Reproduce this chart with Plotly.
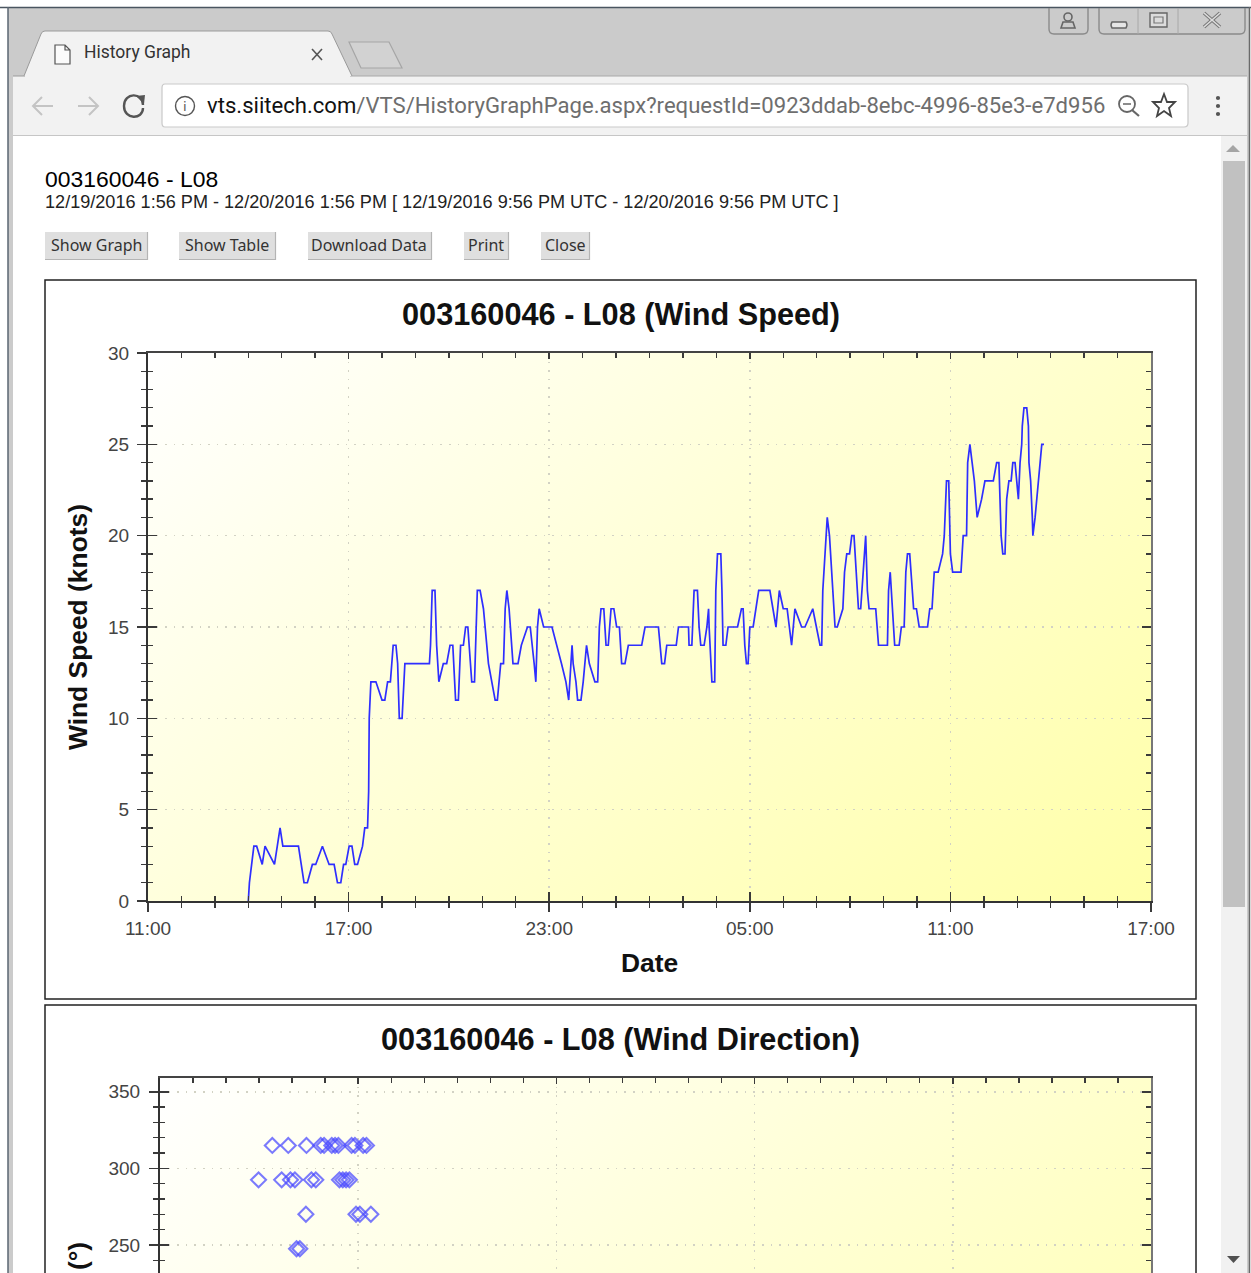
import re, base64
from datetime import datetime, timedelta
import plotly.graph_objects as go

W, H = 1251, 1273

# ---------- data (minutes after 11:00 on 12/19/2016) ----------
speed_minutes = [180,182,186,190,195,205,210,227,232,237,242,270,275,280,286,295,301,313,325,334,340,346,351,355,361,366,371,376,385,389,394,396,397,400,409,420,425,430,435,440,445,448,451,456,461,505,507,510,515,518,522,530,536,542,547,552,557,561,566,570,574,578,581,586,589,591,596,602,611,623,627,633,638,641,644,648,655,664,670,681,686,690,693,696,699,702,710,725,734,742,750,755,759,761,763,768,771,777,781,784,787,792,802,807,810,813,818,820,822,826,829,831,836,841,846,850,856,862,886,892,916,922,927,931,948,952,970,971,976,977,980,986,989,992,998,1003,1006,1007,1010,1012,1017,1019,1022,1028,1030,1032,1037,1041,1058,1065,1068,1071,1074,1077,1080,1086,1091,1096,1116,1121,1127,1133,1140,1147,1155,1161,1173,1179,1193,1206,1209,1211,1213,1217,1219,1223,1225,1229,1231,1233,1237,1247,1250,1254,1259,1263,1267,1272,1275,1279,1284,1288,1291,1294,1306,1311,1327,1329,1332,1336,1340,1343,1348,1352,1357,1360,1363,1367,1372,1374,1379,1384,1399,1403,1407,1411,1418,1426,1429,1431,1433,1437,1440,1444,1459,1463,1469,1471,1475,1479,1483,1488,1496,1502,1517,1523,1527,1531,1534,1538,1541,1545,1549,1552,1556,1559,1562,1565,1568,1569,1572,1577,1580,1581,1584,1587,1588,1592,1595,1598,1601,1604,1608]
speed_knots = [0,1,2,3,3,2,3,2,3,4,3,3,2,1,1,2,2,3,2,2,1,1,2,2,3,3,2,2,3,4,4,6,10,12,12,11,11,12,12,14,14,13,10,10,13,13,14,17,17,14,12,13,13,14,14,11,11,14,14,15,15,13,12,12,16,17,17,16,13,11,11,13,13,16,17,16,13,13,14,15,15,14,13,12,15,16,15,15,14,13,12,11,13,14,13,12,11,11,12,13,14,13,12,12,15,16,16,15,14,14,15,16,16,15,15,13,13,14,14,15,15,13,13,14,14,15,15,14,14,15,17,17,15,14,14,15,16,15,13,12,12,17,19,19,17,14,14,15,15,16,16,14,13,13,15,15,16,17,17,16,15,17,16,16,14,16,15,15,16,14,14,17,18,20,21,20,19,17,16,15,15,16,18,19,19,20,20,17,16,16,18,20,17,16,16,14,14,17,18,16,14,14,14,15,15,18,19,19,17,16,16,15,15,16,16,18,18,19,20,22,23,23,19,18,18,20,20,24,25,24,23,21,22,23,23,24,24,20,19,19,22,23,23,24,24,23,22,24,25,26,27,27,26,24,23,21,20,21,22,23,24,25,25]
dir_minutes = [204,233,266,292,298,312,318,324,348,354,369,375,179,221,237,245,275,283,326,332,338,344,265,356,363,383,248,254]
dir_degrees = [315]*12 + [292.5]*10 + [270]*4 + [247.5]*2
START = datetime(2016, 12, 19, 11, 0)
speed_time = [START + timedelta(minutes=m) for m in speed_minutes]
dir_time = [START + timedelta(minutes=m) for m in dir_minutes]
T0, T1 = "2016-12-19 11:00", "2016-12-20 17:00"
HOUR = 3600000

FONT = "Liberation Sans"
TICKC = "#3a3a3a"

# ---------- pixel helpers ----------
px = lambda x: x / W
py = lambda y: 1 - y / H
shapes, annots = [], []

def rect(x0, y0, x1, y1, fill=None, line=None, lw=1, layer="above"):
    shapes.append(dict(type="rect", xref="paper", yref="paper", x0=px(x0), x1=px(x1), y0=py(y0), y1=py(y1),
                       fillcolor=fill or "rgba(0,0,0,0)", line=dict(color=line or "rgba(0,0,0,0)", width=lw if line else 0), layer=layer))

def seg(x0, y0, x1, y1, color, lw=1, layer="above"):
    shapes.append(dict(type="line", xref="paper", yref="paper", x0=px(x0), x1=px(x1), y0=py(y0), y1=py(y1),
                       line=dict(color=color, width=lw), layer=layer))

def path(d, fill=None, line=None, lw=1, layer="above"):
    toks = re.findall(r"[MLCQZ]|-?\d+\.?\d*", d)
    out, isx = [], True
    for t in toks:
        if t in "MLCQZ":
            out.append(t); isx = True
        else:
            out.append(f"{px(float(t)):.5f}" if isx else f"{py(float(t)):.5f}")
            isx = not isx
    s = ""
    i = 0
    while i < len(out):
        if out[i] in "MLCQZ":
            s += out[i]; i += 1
            first = True
            while i < len(out) and out[i] not in "MLCQZ":
                s += ("" if first else " ") + out[i] + "," + out[i + 1]
                first = False
                i += 2
        else:
            i += 1
    shapes.append(dict(type="path", xref="paper", yref="paper", path=s, fillcolor=fill or "rgba(0,0,0,0)",
                       line=dict(color=line or "rgba(0,0,0,0)", width=lw if line else 0), layer=layer))

def text(x, y, s, size, color="#000", font=FONT, anchor="left", bold=False, angle=0, yanchor="middle"):
    annots.append(dict(x=px(x), y=py(y), xref="paper", yref="paper", text=f"<b>{s}</b>" if bold else s, showarrow=False,
                       xanchor=anchor, yanchor=yanchor, textangle=angle, align=anchor,
                       font=dict(size=size, color=color, family=font), borderpad=0, borderwidth=0))

def circle(cx, cy, r, fill=None, line=None, lw=1):
    shapes.append(dict(type="circle", xref="paper", yref="paper", x0=px(cx - r), x1=px(cx + r), y0=py(cy + r), y1=py(cy - r),
                       fillcolor=fill or "rgba(0,0,0,0)", line=dict(color=line or "rgba(0,0,0,0)", width=lw if line else 0), layer="above"))

# ---------- browser chrome ----------
GRAY = "#cbcbcb"
BAR = "#f2f2f2"
rect(8, 8, 1249, 76, fill=GRAY)
rect(8, 76, 13, H, fill=GRAY)
rect(1247, 76, 1249, H, fill=GRAY)
seg(0, 7.5, 1251, 7.5, "#4a5560", 1.5)
seg(8, 7, 8, H, "#5a6672", 1.5)
seg(1249.5, 7, 1249.5, H, "#6a6a6a", 1.5)
rect(13, 76, 1247, 135, fill=BAR)
seg(13, 135.5, 1247, 135.5, "#c6c6c6", 1)
seg(13, 76, 25, 76, "#9a9a9a", 1)
seg(350, 76, 1247, 76, "#a8a8a8", 1)
path("M 24 76 L 41 34 Q 42 31 45 31 L 328 31 Q 331 31 332 34 L 352 76 Z", fill=BAR)
path("M 24 76 L 41 34 Q 42 31 45 31 L 328 31 Q 331 31 332 34 L 352 76", line="#9a9a9a", lw=1)
path("M 349 42 L 389 42 L 402 68 L 361 68 Z", fill="#d2d2d2", line="#a6a6a6", lw=1.2)
path("M 55 45 L 65 45 L 70 50 L 70 64 L 55 64 Z M 65 45 L 65 50 L 70 50", line="#555", lw=1.2, fill="#fbfbfb")
text(84, 52, "History Graph", 17.5, "#333", "Roboto")
seg(312, 49, 322, 60, "#555", 1.6)
seg(322, 49, 312, 60, "#555", 1.6)
# nav icons
path("M 33 106 L 53 106 M 42 97 L 33 106 L 42 115", line="#c4c4c4", lw=2)
path("M 78 106 L 98 106 M 89 97 L 98 106 L 89 115", line="#c4c4c4", lw=2)
path("M 143 105 C 143 92 124 92 124 106 C 124 120 143 120 143 108", line="#555", lw=2.4)
path("M 136 96 L 145 95 L 144 104 Z", fill="#555")
# omnibox
path("M 165 84 L 1184 84 Q 1188 84 1188 88 L 1188 123 Q 1188 127 1184 127 L 165 127 Q 162 127 162 123 L 162 88 Q 162 84 165 84 Z", fill="#fff", line="#c9c9c9", lw=1.2)
circle(185, 106, 9.5, line="#555", lw=1.4)
text(185, 106, "i", 13, "#555", "DejaVu Sans", "center")
text(207, 105, 'vts.siitech.com<span style="color:#6e6e6e">/VTS/HistoryGraphPage.aspx?requestId=0923ddab-8ebc-4996-85e3-e7d956</span>', 22.1, "#111", "Roboto")
circle(1127, 104, 8, line="#666", lw=1.8)
seg(1132, 110, 1139, 116, "#666", 2.2)
seg(1123, 104, 1131, 104, "#666", 1.5)
path("M 1164 94 L 1167 102 L 1175 102 L 1169 108 L 1171 116 L 1164 111 L 1157 116 L 1159 108 L 1153 102 L 1161 102 Z", line="#444", lw=1.8)
for yy in (98, 106, 114):
    circle(1218, yy, 2.1, fill="#555")
# window buttons
path("M 1049 8 L 1049 29 Q 1049 34 1054 34 L 1083 34 Q 1088 34 1088 29 L 1088 8", line="#8a8a8a", lw=1.4)
path("M 1099 8 L 1099 29 Q 1099 34 1104 34 L 1240 34 Q 1245 34 1245 29 L 1245 8", line="#8a8a8a", lw=1.4)
seg(1138, 8, 1138, 34, "#a8a8a8", 1)
seg(1178, 8, 1178, 34, "#a8a8a8", 1)
circle(1068, 17, 4, line="#666", lw=1.6)
path("M 1061 28 L 1063 22 L 1073 22 L 1075 28 Z", line="#666", lw=1.6)
path("M 1112 22 L 1126 22 Q 1128 25 1126 28 L 1112 28 Q 1110 25 1112 22 Z", fill="#e6e6e6", line="#666", lw=1.4)
rect(1150, 13, 1167, 27, fill="#dcdcdc", line="#666", lw=1.4)
rect(1154, 17, 1163, 23, line="#777", lw=1.2)
seg(1204, 13, 1220, 27, "#777", 3.6)
seg(1220, 13, 1204, 27, "#777", 3.6)
seg(1204, 13, 1220, 27, "#ddd", 1.6)
seg(1220, 13, 1204, 27, "#ddd", 1.6)
# scrollbar
rect(1221, 136, 1247, H, fill="#f1f1f1")
rect(1223, 161, 1245, 907, fill="#c1c1c1")
path("M 1226 152 L 1240 152 L 1233 145 Z", fill="#a5a5a5")
path("M 1227 1256 L 1240 1256 L 1233.5 1263 Z", fill="#505050")

# ---------- page header ----------
text(45, 179, "003160046 - L08", 22.9, "#000")
text(45, 202, "12/19/2016 1:56 PM - 12/20/2016 1:56 PM [ 12/19/2016 9:56 PM UTC - 12/20/2016 9:56 PM UTC ]", 18.1, "#222")
buttons = [("Show Graph", 45, 148), ("Show Table", 179, 276), ("Download Data", 308, 432), ("Print", 464, 509), ("Close", 541, 590)]
for label, a, b in buttons:
    rect(a, 232, b, 260, fill="#dfdfdf")
    seg(a, 259.5, b, 259.5, "#b4b4b4", 1.2)
    seg(b - .5, 232, b - .5, 260, "#b4b4b4", 1.2)
    text((a + b) / 2 - .5, 245, label, 16, "#333", "Noto Sans", "center")

# ---------- chart panels ----------
rect(45, 280, 1196, 999, line="#222", lw=1.5, layer="below")
path("M 45 1273 L 45 1005 L 1196 1005 L 1196 1273", line="#222", lw=1.5, layer="below")
text(620.5, 315, "003160046 - L08 (Wind Speed)", 30.7, "#111", anchor="center", bold=True)
text(620.5, 1039.5, "003160046 - L08 (Wind Direction)", 30.7, "#111", anchor="center", bold=True)
text(78, 1256, "(°)", 26.4, "#111", anchor="center", bold=True, angle=-90)

# ---------- gradient plot backgrounds ----------
def gradient(w, h):
    svg = (f'<svg xmlns="http://www.w3.org/2000/svg" width="{w}" height="{h}" viewBox="0 0 {w} {h}" preserveAspectRatio="none">'
           f'<defs><linearGradient id="g" gradientUnits="userSpaceOnUse" x1="0" y1="0" x2="1100" y2="1300">'
           f'<stop offset="0" stop-color="#ffffff"/><stop offset="1" stop-color="#ffff74"/></linearGradient></defs>'
           f'<rect width="{w}" height="{h}" fill="url(#g)"/></svg>')
    return "data:image/svg+xml;base64," + base64.b64encode(svg.encode()).decode()

C1 = dict(l=148, r=1151, t=353, b=901)
C2 = dict(l=160, r=1151, t=1078, b=1273)
images = []
for c in (C1, C2):
    images.append(dict(source=gradient(c["r"] - c["l"], c["b"] - c["t"]), xref="paper", yref="paper",
                       x=px(c["l"]), y=py(c["t"]), sizex=(c["r"] - c["l"]) / W, sizey=(c["b"] - c["t"]) / H,
                       xanchor="left", yanchor="top", sizing="stretch", layer="below"))

# ---------- axes ----------
GRID = dict(showgrid=True, gridcolor="#d2d2c4", griddash="1.6px,7px", gridwidth=1.6)
def xax(c, side, ticks, labels=False, overlay=None, anchor="y", line="#333", grid=False, major=9, minor=5):
    d = dict(type="date", range=[T0, T1], domain=[px(c["l"]), px(c["r"])], side=side, anchor=anchor,
             tickmode="linear", tick0=T0, dtick=6 * HOUR, tickformat="%H:%M", ticks=ticks, ticklen=major, tickwidth=1.6, tickcolor=TICKC,
             minor=dict(ticks=ticks, ticklen=minor, tickwidth=1.4, tickcolor=TICKC, dtick=HOUR, tick0=T0, showgrid=False),
             showticklabels=labels, showline=True, linecolor=line, linewidth=2, zeroline=False, showgrid=False,
             tickfont=dict(size=19, family=FONT, color="#444"), automargin=False, fixedrange=True)
    if grid: d.update(GRID)
    if overlay: d["overlaying"] = overlay
    return d

def yax(c, rng, dtick, mdtick, side, ticks, labels=False, overlay=None, anchor="x", line="#333", grid=False, major=9, minor=5, lab_off=0):
    d = dict(range=rng, domain=[py(c["b"]), py(c["t"])], side=side, anchor=anchor,
             tickmode="linear", tick0=0, dtick=dtick, ticks=ticks, ticklen=major, tickwidth=1.6, tickcolor=TICKC,
             minor=dict(ticks=ticks, ticklen=minor, tickwidth=1.4, tickcolor=TICKC, dtick=mdtick, tick0=0, showgrid=False),
             showticklabels=labels, showline=True, linecolor=line, linewidth=2, zeroline=False, showgrid=False,
             tickfont=dict(size=19, family=FONT, color="#444"), automargin=False, fixedrange=True, ticklabelstandoff=lab_off)
    if grid: d.update(GRID)
    if overlay: d["overlaying"] = overlay
    return d

R1 = [0, 30]
R2 = [231.7, 359]
layout = dict(
    width=W, height=H, autosize=False, margin=dict(l=0, r=0, t=0, b=0, pad=0), paper_bgcolor="#fff", plot_bgcolor="rgba(0,0,0,0)",
    showlegend=False, hovermode=False, shapes=shapes, annotations=annots, images=images,
    xaxis=xax(C1, "bottom", "outside", labels=True, grid=True, anchor="y"),
    yaxis=yax(C1, R1, 5, 1, "left", "outside", labels=True, grid=True, anchor="x", lab_off=4),
    xaxis2=xax(C1, "bottom", "inside", overlay="x", anchor="y2"),
    yaxis2=yax(C1, R1, 5, 1, "left", "inside", overlay="y", anchor="x2"),
    xaxis3=xax(C1, "top", "inside", overlay="x", anchor="y3", line="#444", major=6, minor=5),
    yaxis3=yax(C1, R1, 5, 1, "right", "inside", overlay="y", anchor="x3", line="#777", major=9, minor=5),
    xaxis4=xax(C2, "top", "inside", anchor="y4", line="#444", grid=True, major=6, minor=5),
    yaxis4=yax(C2, R2, 50, 10, "left", "outside", labels=True, grid=True, anchor="x4", lab_off=5),
    yaxis5=yax(C2, R2, 50, 10, "left", "inside", overlay="y4", anchor="x4"),
    yaxis6=yax(C2, R2, 50, 10, "right", "inside", overlay="y4", anchor="x4", line="#777"),
)
layout["xaxis"]["title"] = dict(text="<b>Date</b>", font=dict(size=26.4, family=FONT, color="#111"), standoff=16)
layout["yaxis"]["title"] = dict(text="<b>Wind Speed (knots)</b>", font=dict(size=26.4, family=FONT, color="#111"), standoff=13)

fig = go.Figure(layout=layout)
fig.add_trace(go.Scatter(x=speed_time, y=speed_knots, mode="lines", line=dict(color="#2e2eff", width=1.7), xaxis="x", yaxis="y", name="Wind Speed"))
for xa, ya in (("x2", "y2"), ("x3", "y3"), ("x4", "y5"), ("x4", "y6")):
    fig.add_trace(go.Scatter(x=[None], y=[None], mode="lines", xaxis=xa, yaxis=ya, hoverinfo="skip", showlegend=False))
fig.add_trace(go.Scatter(x=dir_time, y=dir_degrees, mode="markers", xaxis="x4", yaxis="y4", name="Wind Direction",
                         marker=dict(symbol="diamond-open", size=11.5, color="rgba(70,70,255,0.72)", line=dict(width=2.1, color="rgba(70,70,255,0.72)"))))

fig.write_html("out.html", config=dict(displayModeBar=False, staticPlot=True),
               post_script="document.body.style.margin='0';document.body.style.overflow='hidden';")
